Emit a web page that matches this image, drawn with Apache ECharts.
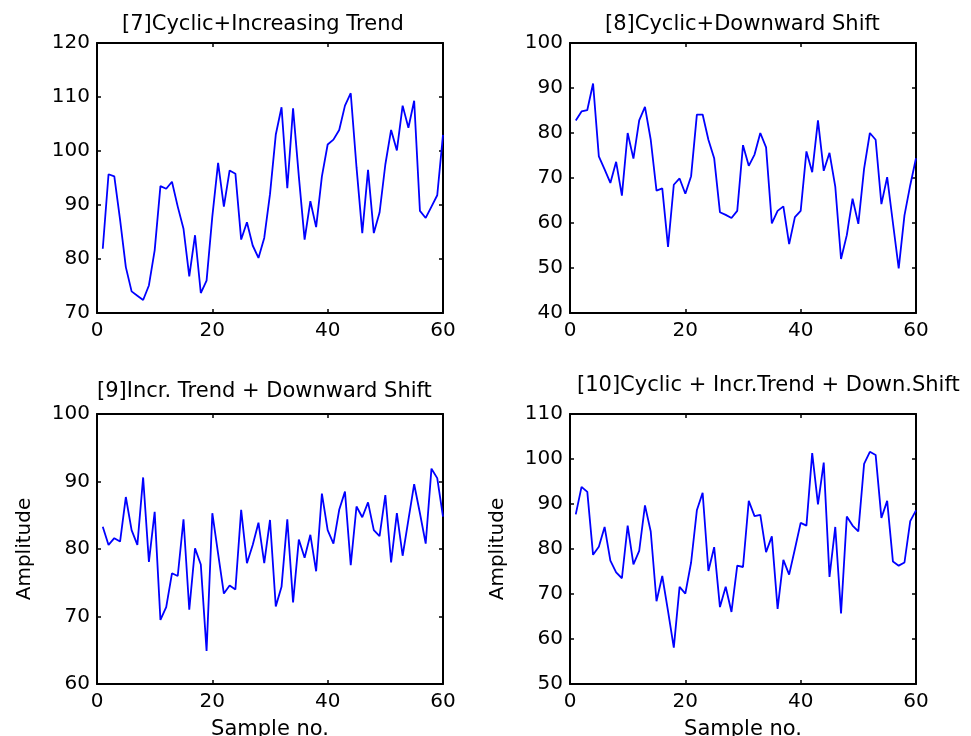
<!DOCTYPE html>
<html><head><meta charset="utf-8">
<script src="https://cdn.jsdelivr.net/npm/echarts@6/dist/echarts.min.js"></script>
<style>html,body{margin:0;padding:0;background:#fff}#c{width:971px;height:736px}</style>
</head><body><div id="c"></div>
<script>
const samples = [1,2,3,4,5,6,7,8,9,10,11,12,13,14,15,16,17,18,19,20,21,22,23,24,25,26,27,28,29,30,
  31,32,33,34,35,36,37,38,39,40,41,42,43,44,45,46,47,48,49,50,51,52,53,54,55,56,57,58,59,60];
const xTickStep = 20;
const titles = ['[7]Cyclic+Increasing Trend', '[8]Cyclic+Downward Shift',
  '[9]Incr. Trend + Downward Shift', '[10]Cyclic + Incr.Trend + Down.Shift'];
const xAxisTitle = 'Sample no.';
const yAxisTitle = 'Amplitude';

const cyclicIncreasing = [81.9,95.7,95.3,87.3,78.5,74.0,73.2,72.4,75.1,81.6,93.5,93.0,94.3,89.7,85.6,76.8,84.4,73.7,76.0,87.9,
  97.8,89.7,96.4,95.8,83.6,86.8,82.5,80.2,83.9,92.0,103.0,108.1,93.1,107.9,95.3,83.6,90.7,85.9,95.3,101.2,
  102.1,103.9,108.4,110.7,97.0,84.8,96.5,84.8,88.6,97.5,103.9,100.1,108.4,104.3,109.3,88.9,87.6,89.7,91.8,103.0];
const cyclicDownward = [82.8,84.8,85.1,91.0,74.8,71.9,68.9,73.6,66.1,80.0,74.3,82.8,85.8,78.5,67.2,67.7,54.7,68.5,69.9,66.5,
  70.4,84.1,84.1,78.5,74.4,62.4,61.8,61.1,62.7,77.3,72.7,75.2,80.0,76.8,59.9,62.7,63.7,55.3,61.3,62.7,
  75.9,71.3,82.8,71.6,75.6,68.1,52.0,57.3,65.4,59.8,72.1,80.0,78.5,64.2,70.2,60.0,49.9,61.7,68.4,74.4];
const trendDownward = [83.3,80.6,81.6,81.1,87.7,82.8,80.6,90.6,78.1,85.5,69.5,71.4,76.4,76.0,84.4,71.0,80.1,77.7,64.9,85.3,
  79.3,73.4,74.6,74.0,85.8,77.9,80.6,83.9,77.9,84.3,71.5,74.4,84.4,72.1,81.4,78.7,82.1,76.7,88.2,82.8,
  80.8,85.8,88.5,77.6,86.3,84.7,86.9,82.8,81.9,88.0,78.0,85.3,79.0,84.3,89.6,85.3,80.8,91.9,90.5,84.8];
const cyclicTrendDownward = [87.7,93.8,92.7,78.7,80.5,84.9,77.4,74.8,73.5,85.2,76.6,79.6,89.7,83.9,68.4,74.0,66.2,58.1,71.6,70.1,
  77.0,88.6,92.5,75.1,80.4,67.1,71.6,66.0,76.3,76.0,90.7,87.3,87.6,79.3,82.8,66.7,77.6,74.3,80.0,85.8,
  85.2,101.3,89.9,99.2,73.8,84.9,65.7,87.2,85.2,83.9,98.9,101.6,100.9,86.9,90.7,77.2,76.3,77.0,86.2,88.6];
const yMins = [70, 40, 60, 50];
const yMaxs = [120, 100, 100, 110];
const yTickStep = 10;

const allSeries = [cyclicIncreasing, cyclicDownward, trendDownward, cyclicTrendDownward];
const FONT = 'DejaVu Sans';

const grids = [
  {left: 97, top: 43, width: 346, height: 270, outerBoundsMode: 'none', containLabel: false},
  {left: 570, top: 43, width: 346, height: 270, outerBoundsMode: 'none', containLabel: false},
  {left: 97, top: 414, width: 346, height: 270, outerBoundsMode: 'none', containLabel: false},
  {left: 570, top: 414, width: 346, height: 270, outerBoundsMode: 'none', containLabel: false}
];
const titlePos = [{left: 122, top: 14}, {left: 605, top: 14}, {left: 97, top: 381}, {left: 577, top: 375}];

const axisLine = {show: true, onZero: false, lineStyle: {color: '#000', width: 2}};
const axisTick = {show: true, inside: true, length: 4, lineStyle: {color: '#000', width: 1.5}};
const lbl = {color: '#000', fontFamily: FONT, fontSize: 20};

const xAxis = [], yAxis = [], series = [], title = [];
for (let i = 0; i < 4; i++) {
  const bottomRow = i >= 2;
  xAxis.push({
    type: 'value', gridIndex: i, position: 'bottom', min: 0, max: 60, interval: xTickStep,
    axisLine, axisTick, splitLine: {show: false},
    axisLabel: Object.assign({margin: 8}, lbl),
    name: bottomRow ? xAxisTitle : '', nameLocation: 'middle', nameGap: 35,
    nameTextStyle: {color: '#000', fontFamily: FONT, fontSize: 21}
  });
  xAxis.push({
    type: 'value', gridIndex: i, position: 'top', min: 0, max: 60, interval: xTickStep,
    axisLine, axisTick, splitLine: {show: false}, axisLabel: {show: false}
  });
  yAxis.push({
    type: 'value', gridIndex: i, position: 'left', min: yMins[i], max: yMaxs[i], interval: yTickStep,
    axisLine, axisTick, splitLine: {show: false},
    axisLabel: Object.assign({margin: 7}, lbl),
    name: bottomRow ? yAxisTitle : '', nameLocation: 'middle', nameGap: 62, nameRotate: 90,
    nameTextStyle: {color: '#000', fontFamily: FONT, fontSize: 20}
  });
  yAxis.push({
    type: 'value', gridIndex: i, position: 'right', min: yMins[i], max: yMaxs[i], interval: yTickStep,
    axisLine, axisTick, splitLine: {show: false}, axisLabel: {show: false}
  });
  series.push({
    type: 'line', xAxisIndex: 2 * i, yAxisIndex: 2 * i,
    data: samples.map((s, k) => [s, allSeries[i][k]]),
    showSymbol: false, symbol: 'none',
    lineStyle: {color: '#0000ff', width: 1.8}, itemStyle: {color: '#0000ff'},
    animation: false
  });
  title.push({
    text: titles[i], left: titlePos[i].left, top: titlePos[i].top, padding: 0,
    textStyle: {color: '#000', fontFamily: FONT, fontSize: 21, fontWeight: 'normal'}
  });
}

const chart = echarts.init(document.getElementById('c'), null, {renderer: 'canvas'});
chart.setOption({
  backgroundColor: '#fff', animation: false,
  title, grid: grids, xAxis, yAxis, series
});
</script>
</body></html>
